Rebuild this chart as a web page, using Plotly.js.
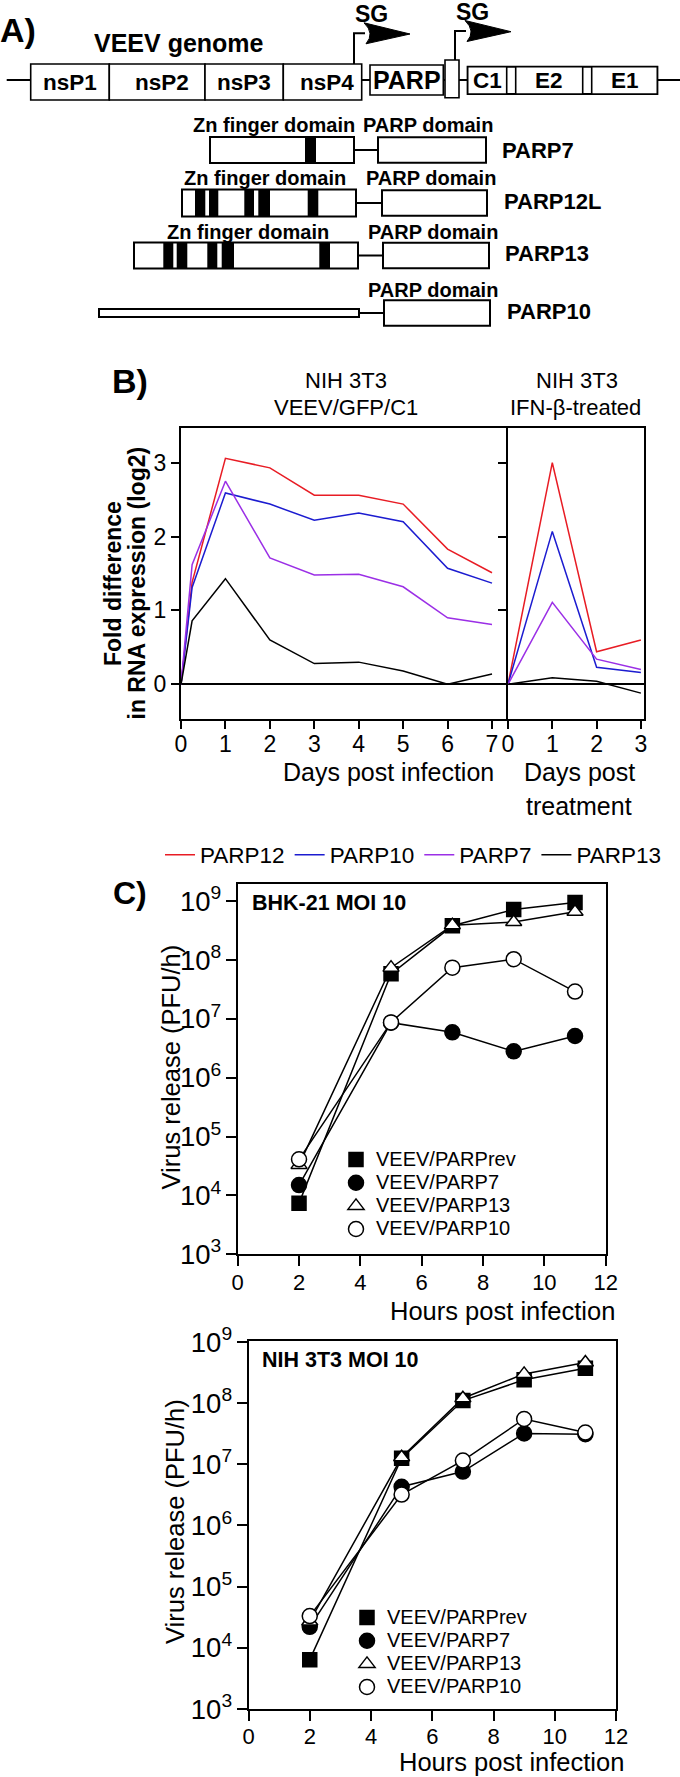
<!DOCTYPE html>
<html>
<head>
<meta charset="utf-8">
<script src="https://cdn.plot.ly/plotly-3.0.1.min.js"></script>
<style>html,body{margin:0;padding:0;background:#fff;}#chart{width:680px;height:1777px;}</style>
</head>
<body>
<div id="chart"></div>
<script>
// ---------------- DATA ----------------
// Panel A: schematic (units along the construct)
const genomeSegments = ['nsP1','nsP2','nsP3','nsP4','PARP','','C1','E2','E1'];
const genomeStarts   = [30.7,109.3,205,283.3,370,445,467.7,515.7,591.7];
const genomeEnds     = [109.3,205,283.3,361.7,443.3,459,506.7,582.7,657.3];
const genomeTops     = [64,64,64,64,65,60,66.7,66.7,66.7];
const genomeBottoms  = [100,100,100,100,95,97.7,94,94,94];
const sgPromoters    = [354,455];
const sgBases        = [64,60];

const parpNames   = ['PARP7','PARP12L','PARP13','PARP10'];
const znStart     = [210,182,134,99];
const znEnd       = [354,356,358,359];
const parpDStart  = [378,382,383,384];
const parpDEnd    = [486,487,489,490];
const znFingers   = [
  [[305,316]],
  [[195,205.3],[209,218.3],[244.3,254],[258.3,270],[307.7,318.3]],
  [[163.3,173.3],[176.7,187.3],[207.3,217.3],[221.7,234],[319.3,330]],
  []
];
const hasZnLabel  = [true,true,true,false];

// Panel B
const daysInf   = [0,0.25,1,2,3,4,5,6,7];
const parp12Inf = [0,1.38,3.06,2.93,2.56,2.56,2.44,1.83,1.51];
const parp10Inf = [0,1.31,2.59,2.44,2.22,2.32,2.20,1.57,1.37];
const parp7Inf  = [0,1.62,2.75,1.71,1.48,1.49,1.32,0.90,0.81];
const parp13Inf = [0,0.86,1.43,0.60,0.28,0.30,0.18,0.00,0.14];
const daysIfn   = [0,1,2,3];
const parp12Ifn = [0,3.00,0.44,0.60];
const parp10Ifn = [0,2.07,0.23,0.16];
const parp7Ifn  = [0,1.11,0.34,0.20];
const parp13Ifn = [0,0.09,0.04,-0.12];
const seriesB   = ['PARP12','PARP10','PARP7','PARP13'];

// Panel C
const hours  = [2,5,7,9,11];
const bhkRev = [7.4e3,5.8e7,3.8e8,7.2e8,9.5e8];
const bhkP7  = [1.5e4,8.6e6,5.9e6,2.8e6,5.1e6];
const bhkP13 = [3.3e4,7.4e7,3.9e8,4.4e8,6.6e8];
const bhkP10 = [4.1e4,8.7e6,7.4e7,1.03e8,2.9e7];
const nihRev = [6.4e3,1.26e7,1.1e8,2.4e8,3.7e8];
const nihP7  = [2.2e4,4.3e6,7.6e6,3.2e7,3.1e7];
const nihP13 = [2.7e4,1.3e7,1.2e8,3.0e8,4.6e8];
const nihP10 = [3.3e4,3.2e6,1.15e7,5.5e7,3.3e7];
const seriesC = ['VEEV/PARPrev','VEEV/PARP7','VEEV/PARP13','VEEV/PARP10'];

// ---------------- HELPERS ----------------
const W = 680, H = 1777;
const px = x => x / W;
const py = y => 1 - y / H;
const FONT = 'Liberation Sans, Arial, Helvetica, sans-serif';

const traces = [];
traces.push({x:[], y:[], xaxis:'x5', yaxis:'y5', showlegend:false, hoverinfo:'skip', type:'scatter'});

// Panel B traces
const colorsB = ['#e81c24','#1c1cd0','#9b2fe6','#000000'];
const infVals = [parp12Inf,parp10Inf,parp7Inf,parp13Inf];
const ifnVals = [parp12Ifn,parp10Ifn,parp7Ifn,parp13Ifn];
seriesB.forEach((n,i)=>{
  traces.push({x:daysInf, y:infVals[i], name:n, mode:'lines', type:'scatter',
    line:{color:colorsB[i], width:1.5}, xaxis:'x', yaxis:'y', legend:'legend', cliponaxis:false});
});
seriesB.forEach((n,i)=>{
  traces.push({x:daysIfn, y:ifnVals[i], name:n, mode:'lines', type:'scatter', showlegend:false,
    line:{color:colorsB[i], width:1.5}, xaxis:'x2', yaxis:'y2'});
});

// Panel C traces
const markersC = [
  {symbol:'square', size:14, color:'black', line:{color:'black', width:1.5}},
  {symbol:'circle', size:15, color:'black', line:{color:'black', width:1.5}},
  {symbol:'triangle-up', size:14, color:'white', line:{color:'black', width:1.5}},
  {symbol:'circle', size:15, color:'white', line:{color:'black', width:1.5}}
];
function addPanelC(vals, xa, ya, leg){
  vals.forEach((v,i)=>{
    traces.push({x:hours, y:v, mode:'lines', type:'scatter', showlegend:false,
      line:{color:'black', width:1.5}, xaxis:xa, yaxis:ya, cliponaxis:false});
  });
  vals.forEach((v,i)=>{
    traces.push({x:hours, y:v, name:'<span style="font-size:20px">' + seriesC[i] + '</span>', mode:'markers', type:'scatter',
      marker:markersC[i], xaxis:xa, yaxis:ya, legend:leg, cliponaxis:false});
  });
}
addPanelC([bhkRev,bhkP7,bhkP13,bhkP10],'x3','y3','legend2');
addPanelC([nihRev,nihP7,nihP13,nihP10],'x4','y4','legend3');

// ---------------- DIAGRAM SHAPES ----------------
const shapes = [];
const ann = [];
const dLine = {color:'black', width:2};
shapes.push({type:'line', xref:'x5', yref:'y5', x0:6.7, x1:680, y0:80, y1:80, line:dLine, layer:'below'});
shapes.push({type:'rect', xref:'x5', yref:'y5', x0:genomeStarts[6], x1:genomeEnds[8], y0:genomeTops[6], y1:genomeBottoms[6], line:dLine, fillcolor:'white'});
genomeSegments.forEach((s,i)=>{
  shapes.push({type:'rect', xref:'x5', yref:'y5', x0:genomeStarts[i], x1:genomeEnds[i], y0:genomeTops[i], y1:genomeBottoms[i], line:{color:'black', width:1.6}, fillcolor:'white'});
  if (s) {
    ann.push({xref:'x5', yref:'y5', x:(genomeStarts[i]+genomeEnds[i])/2 + (i===1?5:0) + (i===3?4:0), y:(genomeTops[i]+genomeBottoms[i])/2,
      text:s, showarrow:false, font:{size: s==='PARP'?25:22.5, family:FONT, color:'black', weight:'bold'}, xanchor:'center', yanchor:'middle'});
  }
});
sgPromoters.forEach((x,i)=>{
  const top = i===0 ? 33.3 : 31;
  shapes.push({type:'path', xref:'x5', yref:'y5', path:`M ${x},${sgBases[i]} L ${x},${top} L ${x+11},${top}`, line:dLine});
  shapes.push({type:'path', xref:'x5', yref:'y5',
    path:`M ${x+10},${top-10.5} L ${x+56},${top+0.7} L ${x+12},${top+10.5} Q ${x+21},${top} ${x+10},${top-10.5} Z`,
    line:{color:'black', width:1}, fillcolor:'black'});
  ann.push({xref:'x5', yref:'y5', x:x+17, y:top-19, text:'SG', showarrow:false,
    font:{size:23, family:FONT, color:'black', weight:'bold'}, xanchor:'center', yanchor:'middle'});
});
ann.push({xref:'x5', yref:'y5', x:179, y:43, text:'VEEV genome', showarrow:false,
  font:{size:25, family:FONT, color:'black', weight:'bold'}, xanchor:'center', yanchor:'middle'});
ann.push({xref:'x5', yref:'y5', x:18, y:30, text:'A)', showarrow:false,
  font:{size:34, family:FONT, color:'black', weight:'bold'}, xanchor:'center', yanchor:'middle'});

const rowY = [150, 203, 255.5, 313];
const znHalf = [13,13.5,13,4];
const labY = [125,178.3,231.7,290];
const znLabX = [274,265,247.5];
const pdLabX = [427.5,431,432.5,433];
const nameX = [500,502,503,505];
const nameY = [150,201,253,311];
parpNames.forEach((n,i)=>{
  shapes.push({type:'line', xref:'x5', yref:'y5', x0:znEnd[i], x1:parpDStart[i], y0:rowY[i], y1:rowY[i], line:dLine});
  shapes.push({type:'rect', xref:'x5', yref:'y5', x0:znStart[i], x1:znEnd[i], y0:rowY[i]-znHalf[i], y1:rowY[i]+znHalf[i], line:dLine, fillcolor:'white'});
  znFingers[i].forEach(f=>{
    shapes.push({type:'rect', xref:'x5', yref:'y5', x0:f[0], x1:f[1], y0:rowY[i]-znHalf[i], y1:rowY[i]+znHalf[i], line:{width:0}, fillcolor:'black'});
  });
  shapes.push({type:'rect', xref:'x5', yref:'y5', x0:parpDStart[i], x1:parpDEnd[i], y0:rowY[i]-12.8, y1:rowY[i]+12.8, line:dLine, fillcolor:'white'});
  if (hasZnLabel[i]) ann.push({xref:'x5', yref:'y5', x:znLabX[i], y:labY[i], text:'Zn finger domain', showarrow:false,
    font:{size:20, family:FONT, color:'black', weight:'bold'}, xanchor:'center', yanchor:'middle'});
  ann.push({xref:'x5', yref:'y5', x:pdLabX[i], y:labY[i], text:'PARP domain', showarrow:false,
    font:{size:20, family:FONT, color:'black', weight:'bold'}, xanchor:'center', yanchor:'middle'});
  ann.push({xref:'x5', yref:'y5', x:nameX[i], y:nameY[i], text:n, showarrow:false,
    font:{size:22, family:FONT, color:'black', weight:'bold'}, xanchor:'left', yanchor:'middle'});
});

// ---------------- PANEL TEXT ----------------
function txt(x,y,t,size,opts){
  const o = Object.assign({xref:'paper', yref:'paper', x:px(x), y:py(y), text:t, showarrow:false,
    xanchor:'center', yanchor:'middle', font:{size:size, family:FONT, color:'black'}}, opts||{});
  if (opts && opts.bold) { o.font.weight = 'bold'; delete o.bold; }
  return o;
}
ann.push(txt(129.5,381,'B)',34,{bold:true}));
ann.push(txt(346,380,'NIH 3T3',22));
ann.push(txt(346,407,'VEEV/GFP/C1',22));
ann.push(txt(577,380,'NIH 3T3',22));
ann.push(txt(575,407,'IFN-β-treated',22));
ann.push(txt(113.5,583.5,'Fold difference',23,{bold:true, textangle:-90}));
ann.push(txt(137,583.5,'in RNA expression (log2)',23,{bold:true, textangle:-90}));
ann.push(txt(388,772,'Days post infection',25));
ann.push(txt(579,772,'Days post',25));
ann.push(txt(579,806,'treatment',25));

ann.push(txt(130,893,'C)',32,{bold:true}));
ann.push(txt(250,903,'BHK-21 MOI 10',21.5,{bold:true, xanchor:'left'}));
ann.push(txt(170,1067.5,'Virus release (PFU/h)',25.5,{textangle:-90}));
ann.push(txt(502,1311,'Hours post infection',25.5));
ann.push(txt(260,1360,'NIH 3T3 MOI 10',21.5,{bold:true, xanchor:'left'}));
ann.push(txt(175,1521,'Virus release (PFU/h)',25.5,{textangle:-90}));
ann.push(txt(511,1762,'Hours post infection',25.5));

// ---------------- AXES ----------------
const baseAx = {showline:true, linewidth:2, linecolor:'black', mirror:true, showgrid:false,
  zeroline:false, ticks:'outside', ticklen:8, tickwidth:2, tickcolor:'black',
  tickfont:{size:23, family:FONT, color:'black'}, fixedrange:true};
const ax = o => Object.assign({}, baseAx, o);

const layout = {
  width:W, height:H, margin:{l:0,r:0,t:0,b:0}, paper_bgcolor:'white', plot_bgcolor:'rgba(0,0,0,0)',
  font:{family:FONT, color:'black'}, showlegend:true,
  xaxis: ax({domain:[px(181),px(508)], range:[0,7.36], tickvals:[0,1,2,3,4,5,6,7], anchor:'y', ticklabelstandoff:-5}),
  yaxis: ax({domain:[py(719),py(428)], range:[-0.47,3.47], tickvals:[0,1,2,3], anchor:'x', mirror:false,
    zeroline:true, zerolinecolor:'black', zerolinewidth:2}),
  xaxis2: ax({domain:[px(508),px(644)], range:[0,3.07], tickvals:[0,1,2,3], anchor:'y2', ticklabelstandoff:-5}),
  yaxis2: ax({domain:[py(719),py(428)], range:[-0.47,3.47], tickvals:[0,1,2,3], anchor:'x2',
    showticklabels:false, zeroline:true, zerolinecolor:'black', zerolinewidth:2}),
  xaxis3: ax({domain:[px(237.7),px(605.7)], range:[0,12], dtick:2, tick0:0, anchor:'y3', ticklen:10,
    tickfont:{size:22, family:FONT, color:'black'}, ticklabelstandoff:-3}),
  yaxis3: ax({domain:[py(1254.3),py(884)], type:'log', range:[3,9.29], dtick:1, tick0:0, anchor:'x3',
    exponentformat:'power', ticklen:10, tickfont:{size:22, family:FONT, color:'black'}}),
  xaxis4: ax({domain:[px(248.5),px(616)], range:[0,12], dtick:2, tick0:0, anchor:'y4', ticklen:10,
    tickfont:{size:22, family:FONT, color:'black'}, ticklabelstandoff:-3}),
  yaxis4: ax({domain:[py(1709),py(1340.7)], type:'log', range:[3,9.02], dtick:1, tick0:0, anchor:'x4',
    exponentformat:'power', ticklen:10, tickfont:{size:22, family:FONT, color:'black'}}),
  xaxis5: {domain:[0,1], range:[0,680], visible:false, anchor:'y5', fixedrange:true},
  yaxis5: {domain:[py(340),1], range:[340,0], visible:false, anchor:'x5', fixedrange:true},
  legend: {orientation:'h', x:px(160), xanchor:'left', y:py(855), yanchor:'middle',
    font:{size:22.5, family:FONT, color:'black'}, bgcolor:'rgba(0,0,0,0)'},
  legend2: {x:px(336), xanchor:'left', y:py(1143), yanchor:'top',
    font:{size:15.5, family:FONT, color:'black'}, bgcolor:'rgba(0,0,0,0)'},
  legend3: {x:px(347), xanchor:'left', y:py(1601), yanchor:'top',
    font:{size:15.5, family:FONT, color:'black'}, bgcolor:'rgba(0,0,0,0)'},
  shapes: shapes,
  annotations: ann
};

Plotly.newPlot('chart', traces, layout, {staticPlot:true, displayModeBar:false});
</script>
</body>
</html>
